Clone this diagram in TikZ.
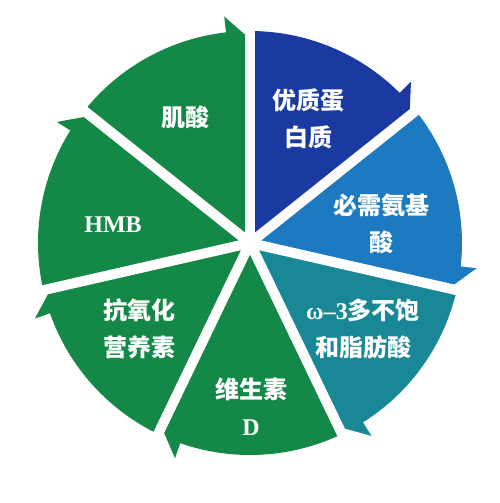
\documentclass[tikz,border=0pt]{standalone}
\usepackage{fontspec}
\setmainfont{Liberation Serif}
\newfontfamily\cjk{Noto Sans CJK SC}
\usepackage{xcolor}
\usepackage{tikz}
\usetikzlibrary{calc}
\usetikzlibrary{positioning}

\definecolor{leafgreen}{RGB}{20,136,70}
\definecolor{deepblue}{RGB}{26,58,162}
\definecolor{midblue}{RGB}{30,122,192}
\definecolor{tealblue}{RGB}{24,136,150}

\tikzset{
    wedge/.style={draw=none},
    gap/.style={draw=white, line width=10pt},
    lbl/.style={text=white, font=\cjk\bfseries\fontsize{24}{37}\selectfont, align=center},
    latin/.style={text=white, font=\bfseries\fontsize{24}{30}\selectfont}
}

\begin{document}
\begin{tikzpicture}[x=1pt, y=1pt]
        \useasboundingbox[fill=white] (0, 0) rectangle (499, 503);

        \begin{scope}[shift={(250, 260)}]
            % seven wedges, clockwise from the top
            \fill[wedge, deepblue] (0, 0) -- (90:212) arc[start angle=90, end angle=45.07, radius=212]
                -- (45.07:228) -- (38.57:204) -- cycle;
            \fill[wedge, midblue] (0, 0) -- (38.57:212) arc[start angle=38.57, end angle=-6.36, radius=212]
                -- (-6.36:228) -- (-12.86:204) -- cycle;
            \fill[wedge, tealblue] (0, 0) -- (-12.86:212) arc[start angle=-12.86, end angle=-57.79, radius=212]
                -- (-57.79:228) -- (-64.29:204) -- cycle;
            \fill[wedge, leafgreen] (0, 0) -- (-64.29:212) arc[start angle=-64.29, end angle=-109.21, radius=212]
                -- (-109.21:228) -- (-115.71:204) -- cycle;
            \fill[wedge, leafgreen] (0, 0) -- (-115.71:212) arc[start angle=-115.71, end angle=-160.64, radius=212]
                -- (-160.64:228) -- (-167.14:204) -- cycle;
            \fill[wedge, leafgreen] (0, 0) -- (-167.14:212) arc[start angle=192.86, end angle=147.93, radius=212]
                -- (147.93:228) -- (141.43:204) -- cycle;
            \fill[wedge, leafgreen] (0, 0) -- (141.43:212) arc[start angle=141.43, end angle=96.5, radius=212]
                -- (96.5:228) -- (90:204) -- cycle;

            % white spokes between the wedges
            \draw[gap] (0, 0) -- (90:240);
            \draw[gap] (0, 0) -- (38.57:240);
            \draw[gap] (0, 0) -- (-12.86:240);
            \draw[gap] (0, 0) -- (-64.29:240);
            \draw[gap] (0, 0) -- (-115.71:240);
            \draw[gap] (0, 0) -- (-167.14:240);
            \draw[gap] (0, 0) -- (141.43:240);
        \end{scope}

        \node[lbl] (creatine) at (185, 386) {肌酸};
        \node[lbl] (protein) at (308, 384) {优质蛋\\白质};
        \node[lbl] (amino) at (381, 279) {必需氨基\\酸};
        \node[lbl] (omega) at (363, 174) {{\rmfamily ω\textendash 3}多不饱\\和脂肪酸};
        \node[lbl] (vitd) at (251, 96) {维生素\\{\rmfamily D}};
        \node[lbl] (antiox) at (139, 174) {抗氧化\\营养素};
        \node[latin] (hmb) at (113, 278) {HMB};
\end{tikzpicture}
\end{document}
